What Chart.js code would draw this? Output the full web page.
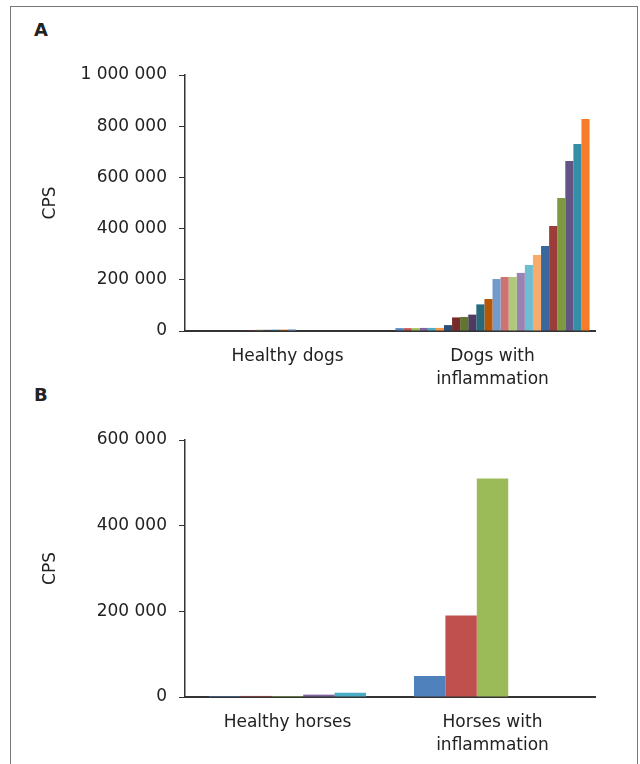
<!DOCTYPE html>
<html>
<head>
<meta charset="utf-8">
<script src="https://cdn.jsdelivr.net/npm/chart.js@4/dist/chart.umd.min.js"></script>
<style>
body{margin:0;background:#fff;width:640px;height:764px;overflow:hidden;position:relative;font-family:"DejaVu Sans",sans-serif}
#frame{position:absolute;left:10px;top:6px;width:626px;height:800px;border:1.5px solid #777;border-bottom:none}
.lbl{position:absolute;font-weight:bold;font-size:18px;color:#222}
canvas{position:absolute;left:0}
</style>
</head>
<body>
<div id="frame"></div>
<div class="lbl" style="left:34px;top:19px">A</div>
<div class="lbl" style="left:34px;top:384px">B</div>
<canvas id="ChartA" width="640" height="341" style="top:50px"></canvas>
<canvas id="ChartB" width="640" height="342" style="top:415px"></canvas>
<script>
// ---- panel A : dogs
const dogLabels=['Healthy dogs',['Dogs with','inflammation']];
const dogHealthy=[0,0,0,0,0,0,0,4000,4500,4500,5000,5000,6500,0,0,0,0,0,0,0,0,0,0,0];
const dogInflamed=[11000,11000,11000,12000,12000,12000,23000,53000,55000,64000,104000,125000,203000,211000,211000,227000,258000,297000,332000,410000,520000,664000,730000,828000];
const dogColors=['#4F81BD','#C0504D','#9BBB59','#8064A2','#4BACC6','#F79646',
'#2C4D75','#772C2A','#5F7530','#4D3B62','#276A7C','#B65708',
'#729ACA','#CD7371','#AFC97A','#9983B5','#6FBDD1','#F9AB6B',
'#3A679C','#9C3D3A','#7E9A40','#625485','#358EA6','#F57C28'];
const dogTicks={max:1000000,step:200000};

// ---- panel B : horses
const horseLabels=['Healthy horses',['Horses with','inflammation']];
const horseHealthy=[2300,2500,2300,5500,10000];
const horseInflamed=[49000,190000,510000,0,0];
const horseColors=['#4F81BD','#C0504D','#9BBB59','#8064A2','#4BACC6'];
const horseTicks={max:600000,step:200000};

const FONT={family:'"DejaVu Sans", sans-serif',size:17,lineHeight:1.3};
const INK='#222';

function fmt(v){return Number(v).toLocaleString('en-US').replace(/,/g,' ')}

function MakeSets(a,b,cols){
return cols.map((c,i)=>({data:[a[i],b[i]],backgroundColor:c,borderWidth:0}))
}

function MakeChart(id,labels,sets,tk,catPct){
return new Chart(document.getElementById(id),{
type:'bar',
data:{labels:labels,datasets:sets},
options:{
responsive:false,animation:false,
layout:{padding:{left:36,right:45,top:25,bottom:0}},
datasets:{bar:{categoryPercentage:catPct,barPercentage:1}},
plugins:{legend:{display:false},tooltip:{enabled:false}},
scales:{
x:{
grid:{display:false},
border:{display:true,color:'#333',width:2},
ticks:{color:INK,font:FONT,padding:7,maxRotation:0,autoSkip:false},
afterFit:s=>{s.height=60}
},
y:{
min:0,max:tk.max,
grid:{display:true,drawOnChartArea:false,drawTicks:true,tickLength:6,color:'#333',lineWidth:1},
border:{display:true,color:'#333',width:1.5},
ticks:{stepSize:tk.step,color:INK,font:FONT,padding:12,callback:v=>fmt(v)},
title:{display:true,text:'CPS',color:INK,font:FONT,padding:{top:4,bottom:0}},
afterFit:s=>{s.width=149}
}
}
}
})
}

MakeChart('ChartA',dogLabels,MakeSets(dogHealthy,dogInflamed,dogColors),dogTicks,0.947);
MakeChart('ChartB',horseLabels,MakeSets(horseHealthy,horseInflamed,horseColors),horseTicks,0.766);
</script>
</body>
</html>
